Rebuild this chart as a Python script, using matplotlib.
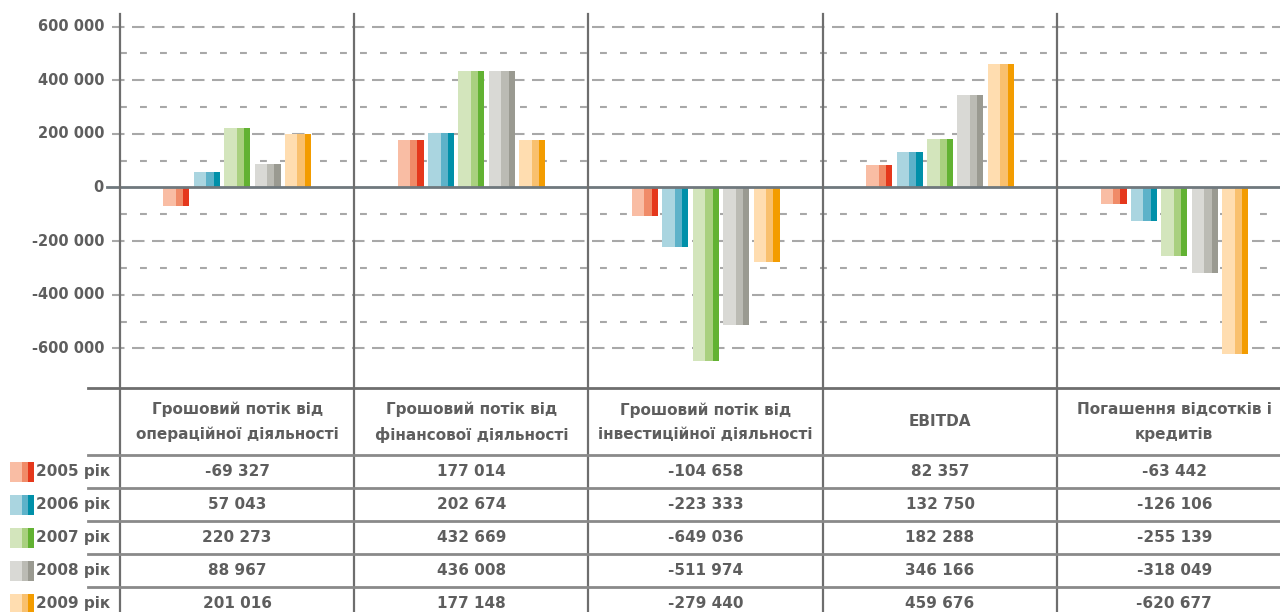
import numpy as np
import matplotlib
matplotlib.use("Agg")
import matplotlib.pyplot as plt
from matplotlib.lines import Line2D
from matplotlib.patches import Rectangle
from matplotlib import font_manager

# data (thousands of UAH)
categories = ["Грошовий потік від\nопераційної діяльності",
              "Грошовий потік від\nфінансової діяльності",
              "Грошовий потік від\nінвестиційної діяльності",
              "EBITDA",
              "Погашення відсотків і\nкредитів"]
years = ["2005 рік", "2006 рік", "2007 рік", "2008 рік", "2009 рік"]
v2005 = [-69327, 177014, -104658, 82357, -63442]
v2006 = [57043, 202674, -223333, 132750, -126106]
v2007 = [220273, 432669, -649036, 182288, -255139]
v2008 = [88967, 436008, -511974, 346166, -318049]
v2009 = [201016, 177148, -279440, 459676, -620677]
series = [v2005, v2006, v2007, v2008, v2009]
yticks = [-600000, -400000, -200000, 0, 200000, 400000, 600000]
minor_ticks = [-500000, -300000, -100000, 100000, 300000, 500000]

# light / medium / dark stripe per year
colors = [("#F9BDA4", "#F08B68", "#E5381C"),
          ("#AAD5E0", "#5DB2C9", "#0090A9"),
          ("#D3E5BC", "#A9D07F", "#62B232"),
          ("#D9D9D5", "#BBBBB4", "#9A9A91"),
          ("#FFDDB0", "#F9C06E", "#F39C00")]
fracs = [0.48, 0.28, 0.24]

names = {f.name for f in font_manager.fontManager.ttflist}
if "Liberation Sans Narrow" in names:
    FONT = "Liberation Sans Narrow"
else:
    FONT = "DejaVu Sans"
plt.rcParams["font.family"] = [FONT, "DejaVu Sans"]
TXT = "#5E5E5E"
LINE = "#6E6E6E"
GRID = "#A8A8A8"

W, H = 1280, 612
fig = plt.figure(figsize=(12.8, 6.12), dpi=100)


def fx(px):
    return px / W


def fy(py):
    return 1 - py / H


ax = fig.add_axes([fx(120), fy(388), fx(1280) - fx(120), fy(14) - fy(388)])
colw = 234.3
ax.set_xlim(-0.5, -0.5 + 1160 / colw)
ax.set_ylim(-748000, 647000)
ax.axis("off")

# grid lines: long dashes on the labelled values, short dashes in between
for t in yticks:
    if t == 0:
        continue
    ax.plot([-0.5 - 8 / colw, 5], [t, t], color=GRID, lw=1.5, ls=(0, (6, 3.6)),
            clip_on=False, zorder=1)
for t in minor_ticks:
    ax.plot([-0.5, 5], [t, t], color=GRID, lw=1.5, ls=(0, (3.3, 6.3)),
            clip_on=False, zorder=1)
ax.plot([-0.5 - 13 / colw, 5], [0, 0], color="#6F787D", lw=2, clip_on=False, zorder=4)

# bars: each bar is split into three shaded stripes
x = np.arange(len(categories))
bw = 26 / colw
pitch = 30.4 / colw
for i, vals in enumerate(series):
    left = x + (i - 2) * pitch - bw / 2
    for j, (f, c) in enumerate(zip(fracs, colors[i])):
        off = sum(fracs[:j]) * bw
        ax.bar(left + off, vals, width=f * bw, align="edge", color=c,
               edgecolor="none", zorder=3)

for t in yticks:
    lab = ("-" if t < 0 else "") + f"{abs(t):,}".replace(",", " ")
    ax.text(-0.5 - 16 / colw, t, lab, ha="right", va="center", fontsize=10.5,
            fontweight="bold", color=TXT, clip_on=False)

# vertical separators and table lines
for px in [120, 353.5, 588, 823, 1057]:
    fig.add_artist(Line2D([fx(px), fx(px)], [fy(14), fy(612)], color=LINE, lw=1.6))
fig.add_artist(Line2D([fx(88), fx(1280)], [fy(388), fy(388)], color=LINE, lw=2))
row_y = [455, 488, 521, 554, 587]
for py in row_y:
    fig.add_artist(Line2D([fx(88), fx(1280)], [fy(py), fy(py)], color="#8A8A8A", lw=2))

# header texts
for k, cat in enumerate(categories):
    cx = 120 + colw * (k + 0.5)
    fig.text(fx(cx), fy(422), cat, ha="center", va="center", fontsize=11,
             fontweight="bold", color=TXT, linespacing=1.75)

# rows: legend swatches + values
for i, vals in enumerate(series):
    cy = row_y[i] + 16.5
    sx = 10
    for f, c in zip(fracs, colors[i]):
        fig.add_artist(Rectangle((fx(sx), fy(cy + 10)), fx(24 * f), fy(cy - 10) - fy(cy + 10),
                                 color=c, lw=0))
        sx += 24 * f
    fig.text(fx(36), fy(cy), years[i], ha="left", va="center", fontsize=11,
             fontweight="bold", color=TXT)
    for k, v in enumerate(vals):
        cx = 120 + colw * (k + 0.5)
        fig.text(fx(cx), fy(cy), f"{v:,}".replace(",", " "), ha="center", va="center",
                 fontsize=11, fontweight="bold", color=TXT)

fig.savefig("out.png", dpi=100)
